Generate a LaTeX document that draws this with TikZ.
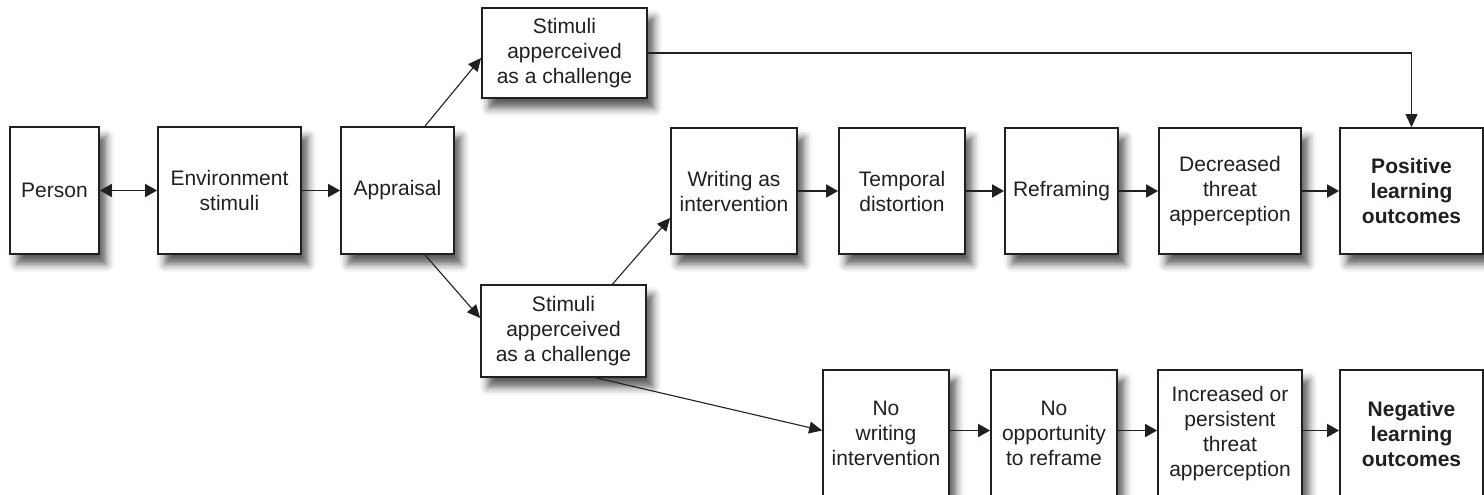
\documentclass[tikz,border=0pt]{standalone}
\usepackage{fontspec}
\setmainfont{Liberation Sans}
\usetikzlibrary{arrows.meta,shadows.blur}
\definecolor{ink}{HTML}{231F20}
\tikzset{
  box/.style={draw=ink, line width=1.8pt, fill=white, text=ink, align=center,
    font=\fontsize{21}{25}\selectfont, inner sep=2pt,
    blur shadow={shadow xshift=7pt, shadow yshift=-10pt, shadow blur radius=8pt, shadow opacity=65}},
  arr/.style={draw=ink, line width=1.8pt, -{Triangle[length=12pt,width=13pt]}},
  darr/.style={draw=ink, line width=1.8pt, {Triangle[length=12pt,width=13pt]}-{Triangle[length=12pt,width=13pt]}},
  thin arr/.style={draw=ink, line width=1.1pt, -{Triangle[length=13pt,width=12pt]}},
}
\begin{document}
\begin{tikzpicture}[x=1pt,y=-1pt]
\useasboundingbox (0,0) rectangle (1484,495);
\node[box, minimum width=89pt, minimum height=127pt] (person) at (54.5,190.5) {Person};
\node[box, minimum width=143pt, minimum height=127pt] (env) at (229.5,190.5) {Environment\\stimuli};
\node[box, minimum width=113pt, minimum height=127pt] (app) at (397.5,190.5) {Appraisal};
\node[box, minimum width=165pt, minimum height=90pt] (sc1) at (564.5,53) {Stimuli\\apperceived\\as a challenge};
\node[box, minimum width=165pt, minimum height=92pt] (sc2) at (563.5,331) {Stimuli\\apperceived\\as a challenge};
\node[box, minimum width=126pt, minimum height=126pt] (wri) at (734,191) {Writing as\\intervention};
\node[box, minimum width=126pt, minimum height=126pt] (tem) at (902,191) {Temporal\\distortion};
\node[box, minimum width=113pt, minimum height=126pt] (ref) at (1061.5,191) {Reframing};
\node[box, minimum width=142pt, minimum height=126pt] (dec) at (1230,191) {Decreased\\threat\\apperception};
\node[box, minimum width=143pt, minimum height=126pt] (pos) at (1411.5,191) {\textbf{Positive}\\\textbf{learning}\\\textbf{outcomes}};
\node[box, minimum width=126pt, minimum height=127pt] (now) at (886,433.5) {No\\writing\\intervention};
\node[box, minimum width=126pt, minimum height=127pt] (noo) at (1054,433.5) {No\\opportunity\\to reframe};
\node[box, minimum width=144pt, minimum height=127pt] (inc) at (1230,433.5) {Increased or\\persistent\\threat\\apperception};
\node[box, minimum width=143pt, minimum height=127pt] (neg) at (1411.5,433.5) {\textbf{Negative}\\\textbf{learning}\\\textbf{outcomes}};

\draw[darr] (person) -- (env);
\draw[arr] (env) -- (app);
\draw[thin arr] ([xshift=27.5pt]app.north) -- ([yshift=-5pt]sc1.west);
\draw[thin arr] ([xshift=27.5pt]app.south) -- ([yshift=13pt]sc2.west);
\draw[thin arr] ([xshift=49pt]sc2.north) -- ([yshift=-27pt]wri.west);
\draw[thin arr] ([xshift=33pt]sc2.south) -- ([yshift=3pt]now.west);
\draw[thin arr] (sc1.east) -| (pos.north);
\draw[arr] (wri) -- (tem);
\draw[arr] (tem) -- (ref);
\draw[arr] (ref) -- (dec);
\draw[arr] (dec) -- (pos);
\draw[arr] ([yshift=3pt]now.east) -- ([yshift=3pt]noo.west);
\draw[arr] ([yshift=3pt]noo.east) -- ([yshift=3pt]inc.west);
\draw[arr] ([yshift=3pt]inc.east) -- ([yshift=3pt]neg.west);
\end{tikzpicture}
\end{document}
